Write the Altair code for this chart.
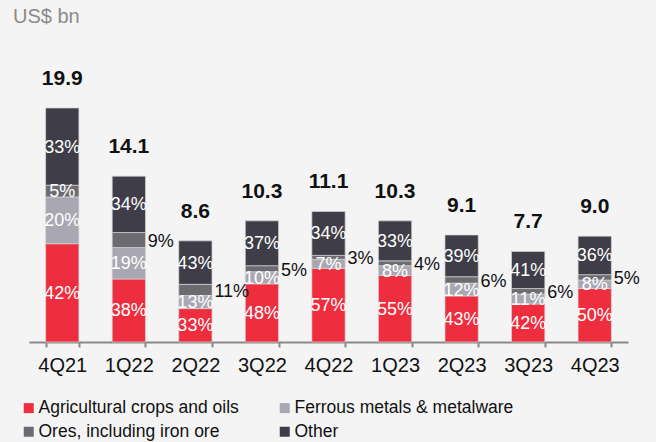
import altair as alt
import pandas as pd

quarters = ["4Q21", "1Q22", "2Q22", "3Q22", "4Q22", "1Q23", "2Q23", "3Q23", "4Q23"]
totals = [19.9, 14.1, 8.6, 10.3, 11.1, 10.3, 9.1, 7.7, 9.0]
categories = ["Agricultural crops and oils", "Ferrous metals & metalware",
              "Ores, including iron ore", "Other"]
agri = [42, 38, 33, 48, 57, 55, 43, 42, 50]
ferrous = [20, 19, 13, 10, 7, 8, 12, 11, 8]
ores = [5, 9, 11, 5, 3, 4, 6, 6, 5]
other = [33, 34, 43, 37, 34, 33, 39, 41, 36]
ores_label_inside = ["4Q21"]

colors = ["#EE2E3E", "#A9A8B2", "#6C6B71", "#3F3E48"]
FONT = "Liberation Sans"

rows = []
for i, q in enumerate(quarters):
    shares = [agri[i], ferrous[i], ores[i], other[i]]
    s = sum(shares)
    for k, (cat, p) in enumerate(zip(categories, shares)):
        inside = not (k == 2 and q not in ores_label_inside)
        rows.append({"quarter": q, "cat": cat, "ord": k, "pct": p,
                     "label": f"{p}%", "value": totals[i] * p / s,
                     "inside": inside})
df = pd.DataFrame(rows)
tot_df = pd.DataFrame({"quarter": quarters, "total": totals,
                       "tlabel": [f"{t:.1f}" for t in totals]})

x_enc = alt.X("quarter:N", sort=quarters,
              scale=alt.Scale(paddingInner=0.5, paddingOuter=0.25),
              axis=alt.Axis(title=None, labelAngle=0, domainColor="#888888",
                            domainWidth=2, tickColor="#888888", tickWidth=2,
                            tickSize=5, tickBand="extent", labelFontSize=20,
                            labelFont=FONT, labelColor="#111111",
                            labelPadding=8, grid=False))
y_scale = alt.Scale(domain=[0, 25.68], nice=False, zero=True)

base = alt.Chart(df).transform_stack(
    stack="value", groupby=["quarter"], sort=[alt.SortField("ord", order="ascending")],
    as_=["y0", "y1"]
).transform_calculate(mid="(datum.y0 + datum.y1) / 2")

bars = base.mark_bar(stroke="#D6D6D6", strokeWidth=0.7).encode(
    x=x_enc,
    y=alt.Y("y0:Q", scale=y_scale, axis=None),
    y2="y1:Q",
    color=alt.Color("cat:N", scale=alt.Scale(domain=categories, range=colors),
                    legend=alt.Legend(orient="none", legendX=-9, legendY=359,
                                      columns=2, direction="horizontal",
                                      title=None, symbolType="square",
                                      symbolSize=100, symbolStrokeWidth=0,
                                      labelFontSize=17.5, labelFont=FONT,
                                      labelColor="#111111", columnPadding=37,
                                      rowPadding=5, labelOffset=1, labelLimit=400)),
)

inside_labels = base.transform_filter("datum.inside").mark_text(
    color="white", fontSize=18, font=FONT, baseline="middle", dy=1
).encode(
    x=alt.X("quarter:N", sort=quarters),
    y=alt.Y("mid:Q", scale=y_scale),
    text="label:N",
)

outside_labels = base.transform_filter("!datum.inside").mark_text(
    color="#111111", fontSize=18, font=FONT, baseline="middle", align="left",
    dx=19, dy=2
).encode(
    x=alt.X("quarter:N", sort=quarters),
    y=alt.Y("mid:Q", scale=y_scale),
    text="label:N",
)

total_labels = alt.Chart(tot_df).mark_text(
    color="#111111", fontSize=21, fontWeight="bold", font=FONT,
    baseline="middle", dy=-29
).encode(
    x=alt.X("quarter:N", sort=quarters),
    y=alt.Y("total:Q", scale=y_scale),
    text="tlabel:N",
)

chart = alt.layer(bars, inside_labels, outside_labels, total_labels).properties(
    width=599, height=302,
    autosize=alt.AutoSizeParams(type="none"),
    padding={"left": 29, "top": 40, "right": 28, "bottom": 100},
    background="#F4F4F4",
    title=alt.TitleParams("US$ bn", anchor="start", fontSize=20, font=FONT,
                          fontWeight="normal", color="#8A8A8A", dx=-7, offset=13),
).configure_view(stroke=None)

chart.save("out.html", embed_options={"renderer": "svg", "actions": False})
